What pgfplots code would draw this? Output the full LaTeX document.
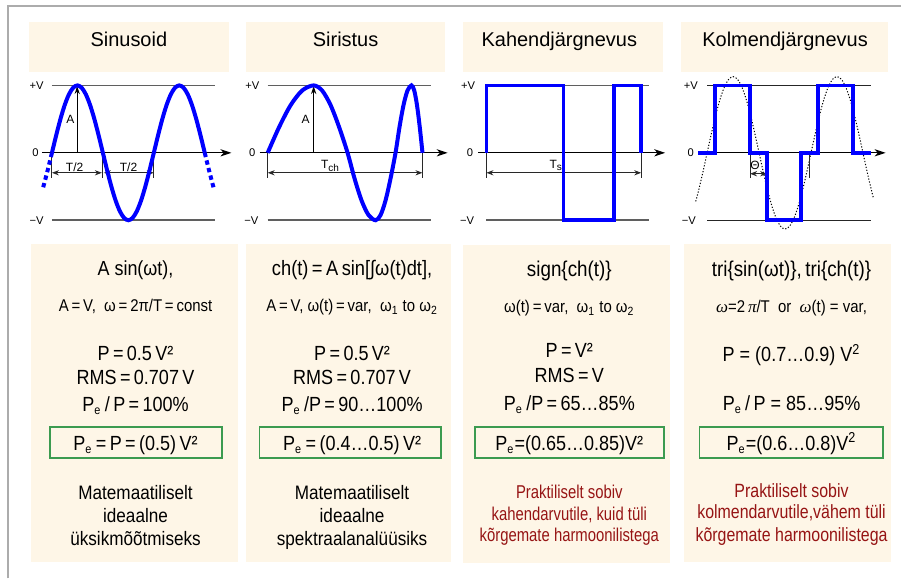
\documentclass[border=0pt]{standalone}
\usepackage{pgfplots}
\usepackage{pgfplotstable}
\pgfplotsset{compat=1.18}
\usetikzlibrary{arrows.meta}
\usepackage{fontspec}
\setmainfont{Liberation Sans}
\newfontfamily\nar[FakeStretch=0.88]{Liberation Sans}
\newfontfamily\narA[FakeStretch=0.80]{Liberation Sans}
\newfontfamily\narB[FakeStretch=0.83]{Liberation Sans}
\newfontfamily\serifr{Liberation Serif}
\definecolor{beige}{RGB}{254,246,231}
\definecolor{boxgreen}{RGB}{60,155,80}
\definecolor{darkred}{RGB}{150,20,20}
\definecolor{vline}{RGB}{95,95,95}
\definecolor{dimc}{RGB}{40,40,40}
\definecolor{wblue}{RGB}{0,0,255}
\newcommand\fs[1]{\fontsize{#1}{#1}\selectfont}
\newcommand\se{\textsubscript{\fs{6.2}e}}
\newcommand\iom{{\serifr\itshape ω}}
\newcommand\ipi{{\serifr\itshape π}}

% sine, one and a half periods (t in periods, y in V)
\pgfplotstableread[row sep=\\]{
t y\\
0 0\\ 0.0417 0.2588\\ 0.0833 0.5\\ 0.125 0.7071\\ 0.1667 0.866\\ 0.2083 0.9659\\
0.25 1\\ 0.2917 0.9659\\ 0.3333 0.866\\ 0.375 0.7071\\ 0.4167 0.5\\ 0.4583 0.2588\\
0.5 0\\ 0.5417 -0.2588\\ 0.5833 -0.5\\ 0.625 -0.7071\\ 0.6667 -0.866\\ 0.7083 -0.9659\\
0.75 -1\\ 0.7917 -0.9659\\ 0.8333 -0.866\\ 0.875 -0.7071\\ 0.9167 -0.5\\ 0.9583 -0.2588\\
1.0 0\\ 1.0417 0.2588\\ 1.0833 0.5\\ 1.125 0.7071\\ 1.1667 0.866\\ 1.2083 0.9659\\
1.25 1\\ 1.2917 0.9659\\ 1.3333 0.866\\ 1.375 0.7071\\ 1.4167 0.5\\ 1.4583 0.2588\\
1.5 0\\
}\sinedata

% chirp (t in units of Tch)
\pgfplotstableread[row sep=\\]{
t y\\
0 0\\ 0.0742 0.3827\\ 0.1484 0.7071\\ 0.2226 0.9239\\ 0.2968 1\\
0.3516 0.9239\\ 0.4065 0.7071\\ 0.4613 0.3827\\ 0.5161 0\\
0.5613 -0.3827\\ 0.6065 -0.7071\\ 0.6516 -0.9239\\ 0.6968 -1\\
0.7290 -0.9239\\ 0.7613 -0.7071\\ 0.7935 -0.3827\\ 0.8258 0\\
0.8516 0.3827\\ 0.8774 0.7071\\ 0.9032 0.9239\\ 0.9290 1\\
0.9468 0.9239\\ 0.9645 0.7071\\ 0.9823 0.3827\\ 1 0\\
}\chirpdata

% binary sequence (t in units of Ts)
\pgfplotstableread[row sep=\\]{
t y\\
0 0\\ 0 1\\ 0.497 1\\ 0.497 -1\\ 0.826 -1\\ 0.826 1\\ 1 1\\ 1 0\\
}\bindata

% ternary sequence (t in periods)
\pgfplotstableread[row sep=\\]{
t y\\
-0.087 0\\ 0.077 0\\ 0.077 1\\ 0.413 1\\ 0.413 0\\ 0.577 0\\ 0.577 -1\\
0.904 -1\\ 0.904 0\\ 1.067 0\\ 1.067 1\\ 1.404 1\\ 1.404 0\\ 1.577 0\\
}\tridata

% dotted reference sine for the ternary sequence
\pgfplotstableread[row sep=\\]{
t y\\
-0.11 -0.720\\ -0.0833 -0.565\\ -0.0417 -0.2924\\ 0 0\\ 0.0417 0.2924\\ 0.0833 0.565\\
0.125 0.799\\ 0.1667 0.9786\\ 0.2083 1.0915\\ 0.25 1.13\\ 0.2917 1.0915\\ 0.3333 0.9786\\
0.375 0.799\\ 0.4167 0.565\\ 0.4583 0.2924\\ 0.5 0\\ 0.5417 -0.2924\\ 0.5833 -0.565\\
0.625 -0.799\\ 0.6667 -0.9786\\ 0.7083 -1.0915\\ 0.75 -1.13\\ 0.7917 -1.0915\\ 0.8333 -0.9786\\
0.875 -0.799\\ 0.9167 -0.565\\ 0.9583 -0.2924\\ 1.0 0\\ 1.0417 0.2924\\ 1.0833 0.565\\
1.125 0.799\\ 1.1667 0.9786\\ 1.2083 1.0915\\ 1.25 1.13\\ 1.2917 1.0915\\ 1.3333 0.9786\\
1.375 0.799\\ 1.4167 0.565\\ 1.4583 0.2924\\ 1.5 0\\ 1.5417 -0.2924\\ 1.5833 -0.565\\
1.6 -0.664\\
}\refsine

\pgfplotsset{panel/.style={hide axis, scale only axis, clip=false, anchor=origin,
  y=33.75pt, ymin=-1.2, ymax=1.2}}
\tikzset{axarrow/.style={line width=0.6pt, -{Stealth[length=5.5pt,width=3.6pt,inset=1.6pt]}},
  dimarrow/.style={dimc, line width=0.5pt, {Stealth[length=3.5pt,width=2.6pt]}-{Stealth[length=3.5pt,width=2.6pt]}},
  tickl/.style={dimc, line width=0.5pt},
  lvl/.style={vline, line width=0.8pt},
  lab/.style={anchor=east, inner sep=0, font=\fs{5.6}},
  txt/.style={anchor=base, inner sep=0}}

\begin{document}
\begin{tikzpicture}[x=0.5pt,y=-0.5pt]
\fill[white] (0,0) rectangle (902,579);
\draw[gray!65, line width=1.1pt] (8,579) -- (8,6) -- (902,6);
% header boxes
\fill[beige] (29,22) rectangle (229,72);
\fill[beige] (246,22) rectangle (446,72);
\fill[beige] (464,22) rectangle (664,72);
\fill[beige] (682,22) rectangle (889,72);
% text boxes
\fill[beige] (31,244) rectangle (238,563);
\fill[beige] (246,244) rectangle (452,563);
\fill[beige] (464,245) rectangle (671,564);
\fill[beige] (685,244) rectangle (892,563);
% green boxes
\draw[boxgreen, line width=0.8pt] (50,427.7) rectangle (222.3,458.3);
\draw[boxgreen, line width=0.8pt] (260,427.7) rectangle (441.7,458.3);
\draw[boxgreen, line width=0.8pt] (475.3,427.7) rectangle (665,458.3);
\draw[boxgreen, line width=0.8pt] (700.3,427.7) rectangle (884.3,458.3);

% headers
\node[txt, font=\fs{10}] at (129,46.7) {Sinusoid};
\node[txt, font=\fs{10}] at (346,46.7) {Siristus};
\node[txt, font=\fs{10}] at (560,46.7) {Kahendjärgnevus};
\node[txt, font=\fs{10}] at (786,46.7) {Kolmendjärgnevus};

% ---------- panel 1: sinusoid
\begin{axis}[panel, at={(26pt,-76.5pt)}, x=51pt, xmin=-0.2, xmax=1.8]
\draw[lvl] (axis cs:0,1) -- (axis cs:1.6,1);
\draw[lvl] (axis cs:0,-1) -- (axis cs:1.6,-1);
\draw[axarrow] (axis cs:-0.098,0) -- (axis cs:1.762,0);
\draw[line width=0.55pt, -{Stealth[length=4pt,width=2.6pt]}] (axis cs:0.248,0) -- (axis cs:0.248,0.99);
\draw[tickl] (axis cs:0,0) -- (axis cs:0,-0.37);
\draw[tickl] (axis cs:0.5,0) -- (axis cs:0.5,-0.37);
\draw[tickl] (axis cs:1.0,0) -- (axis cs:1.0,-0.37);
\draw[dimarrow] (axis cs:0,-0.296) -- (axis cs:0.49,-0.296);
\draw[dimarrow] (axis cs:0.51,-0.296) -- (axis cs:1.0,-0.296);
\addplot[wblue, line width=2pt, smooth] table[x=t, y=y] {\sinedata};
\addplot[wblue, line width=2pt, dash pattern=on 2.2pt off 1.7pt] coordinates {(0,0) (-0.0417,-0.2588) (-0.09,-0.536)};
\addplot[wblue, line width=2pt, dash pattern=on 2.2pt off 1.7pt] coordinates {(1.5,0) (1.5417,-0.2588) (1.59,-0.536)};
\end{axis}

% ---------- panel 2: chirp
\begin{axis}[panel, at={(134pt,-76.5pt)}, x=77.5pt, xmin=-0.07, xmax=1.17]
\draw[lvl] (axis cs:0,1) -- (axis cs:1.052,1);
\draw[lvl] (axis cs:0,-1) -- (axis cs:1.052,-1);
\draw[axarrow] (axis cs:-0.052,0) -- (axis cs:1.163,0);
\draw[line width=0.55pt, -{Stealth[length=4pt,width=2.6pt]}] (axis cs:0.297,0) -- (axis cs:0.297,0.99);
\draw[tickl] (axis cs:0,0) -- (axis cs:0,-0.37);
\draw[tickl] (axis cs:1,0) -- (axis cs:1,-0.37);
\draw[dimarrow] (axis cs:0,-0.296) -- (axis cs:1,-0.296);
\addplot[wblue, line width=2pt, smooth] table[x=t, y=y] {\chirpdata};
\end{axis}

% ---------- panel 3: binary sequence
\begin{axis}[panel, at={(243.5pt,-76.5pt)}, x=77.5pt, xmin=-0.07, xmax=1.17]
\draw[lvl] (axis cs:0,1) -- (axis cs:1.052,1);
\draw[lvl] (axis cs:0,-1) -- (axis cs:1.052,-1);
\draw[axarrow] (axis cs:-0.052,0) -- (axis cs:1.155,0);
\draw[tickl] (axis cs:0,0) -- (axis cs:0,-0.37);
\draw[tickl] (axis cs:1,0) -- (axis cs:1,-0.37);
\draw[dimarrow] (axis cs:0,-0.296) -- (axis cs:1,-0.296);
\addplot[wblue, line width=1.8pt, line join=miter] table[x=t, y=y] {\bindata};
\end{axis}

% ---------- panel 4: ternary sequence
\begin{axis}[panel, at={(354pt,-76.5pt)}, x=52pt, xmin=-0.12, xmax=1.75]
\draw[black!85, line width=0.7pt] (axis cs:0,1) -- (axis cs:1.577,1);
\draw[black!85, line width=0.7pt] (axis cs:0,-1) -- (axis cs:1.577,-1);
\draw[axarrow] (axis cs:-0.087,0) -- (axis cs:1.718,0);
\addplot[black, line width=0.5pt, smooth, dash pattern=on 0.6pt off 0.9pt] table[x=t, y=y] {\refsine};
\draw[tickl] (axis cs:0.413,0) -- (axis cs:0.413,-0.37);
\draw[tickl] (axis cs:0.99,0) -- (axis cs:0.99,-0.37);
\draw[dimarrow] (axis cs:0.413,-0.31) -- (axis cs:0.577,-0.31);
\addplot[wblue, line width=1.8pt, line join=miter] table[x=t, y=y] {\tridata};
\end{axis}

% level labels
\node[lab] at (44,86) {+V};   \node[lab] at (39,153) {0};  \node[lab] at (44,221) {−V};
\node[lab] at (260,86) {+V};  \node[lab] at (256,153) {0}; \node[lab] at (259,221) {−V};
\node[lab] at (476,86) {+V};  \node[lab] at (474,153) {0}; \node[lab] at (475,221) {−V};
\node[lab] at (699,86) {+V};  \node[lab] at (695,153) {0}; \node[lab] at (697,221) {−V};
% panel annotations
\node[inner sep=0, font=\fs{6}] at (70.5,120) {A};
\node[inner sep=0, font=\fs{6}] at (74.7,167) {T/2};
\node[inner sep=0, font=\fs{6}] at (128.7,167) {T/2};
\node[inner sep=0, font=\fs{6}] at (306,120) {A};
\node[inner sep=0, font=\fs{6}] at (331,166) {T\textsubscript{ch}};
\node[inner sep=0, font=\fs{6}] at (557,166) {T\textsubscript{s}};
\node[inner sep=0, font=\fs{6}] at (756,166) {Θ};

% ---------- column 1 text
\node[txt, font=\nar\fs{10.2}] at (135.7,276) {A sin(ωt),};
\node[txt, font=\nar\fs{8.5}] at (135.7,311.7) {A\,=\,V,\ \ ω\,=\,2π/T\,=\,const};
\node[txt, font=\nar\fs{10.25}] at (135.7,360.7) {P\,=\,0.5\,V²};
\node[txt, font=\nar\fs{10.25}] at (135.7,385) {RMS\,=\,0.707\,V};
\node[txt, font=\nar\fs{10.25}] at (135.7,411.7) {P\se\,/\,P\,=\,100\%};
\node[txt, font=\nar\fs{10.25}] at (135.7,450.7) {P\se\,=\,P\,=\,(0.5)\,V²};
\node[txt, font=\nar\fs{9.75}] at (135.7,500) {Matemaatiliselt};
\node[txt, font=\nar\fs{9.75}] at (135.7,522.7) {ideaalne};
\node[txt, font=\nar\fs{9.75}] at (135.7,546) {üksikmõõtmiseks};

% ---------- column 2 text
\node[txt, font=\nar\fs{10.4}] at (352.5,276) {ch(t)\,=\,A\,sin[∫ω(t)dt],};
\node[txt, font=\nar\fs{8.5}] at (352.5,311.7) {A\,=\,V, ω(t)\,=\,var,\ \ ω\textsubscript{1} to ω\textsubscript{2}};
\node[txt, font=\nar\fs{10.25}] at (352.5,360.7) {P\,=\,0.5\,V²};
\node[txt, font=\nar\fs{10.25}] at (352.5,385) {RMS\,=\,0.707\,V};
\node[txt, font=\nar\fs{10.25}] at (352.5,411.7) {P\se\,/P\,=\,90…100\%};
\node[txt, font=\nar\fs{10.25}] at (352.5,450.7) {P\se\,=\,(0.4…0.5)\,V²};
\node[txt, font=\nar\fs{9.75}] at (352.5,500) {Matemaatiliselt};
\node[txt, font=\nar\fs{9.75}] at (352.5,522.7) {ideaalne};
\node[txt, font=\nar\fs{9.75}] at (352.5,546) {spektraalanalüüsiks};

% ---------- column 3 text
\node[txt, font=\nar\fs{10.7}] at (570,276.7) {sign\{ch(t)\}};
\node[txt, font=\nar\fs{8.5}] at (570,313) {ω(t)\,=\,var,\ \ ω\textsubscript{1} to ω\textsubscript{2}};
\node[txt, font=\nar\fs{10.25}] at (570,358.3) {P\,=\,V²};
\node[txt, font=\nar\fs{10.25}] at (570,383.3) {RMS\,=\,V};
\node[txt, font=\nar\fs{10.25}] at (570,410.7) {P\se\,/P\,=\,65…85\%};
\node[txt, font=\nar\fs{10.25}] at (570,450.7) {P\se=(0.65…0.85)V²};
\node[txt, font=\narA\fs{9.3}, text=darkred] at (570,499.3) {Praktiliselt sobiv};
\node[txt, font=\narA\fs{9.3}, text=darkred] at (570,520.7) {kahendarvutile, kuid tüli};
\node[txt, font=\narA\fs{9.3}, text=darkred] at (570,541.7) {kõrgemate harmoonilistega};

% ---------- column 4 text
\node[txt, font=\nar\fs{10.7}] at (792.5,276.7) {tri\{sin(ωt)\},\,tri\{ch(t)\}};
\node[txt, font=\nar\fs{8.5}] at (792.5,313) {\iom=2\,\ipi/T\ \ or\ \ \iom(t) = var,};
\node[txt, font=\nar\fs{10.25}] at (792.5,361.7) {P = (0.7…0.9) V\textsuperscript{2}};
\node[txt, font=\nar\fs{10.25}] at (792.5,410.7) {P\se\,/\,P = 85…95\%};
\node[txt, font=\nar\fs{10.25}] at (792.5,450.7) {P\se=(0.6…0.8)V\textsuperscript{2}};
\node[txt, font=\narB\fs{9.6}, text=darkred] at (792.5,498.3) {Praktiliselt sobiv};
\node[txt, font=\narB\fs{9.6}, text=darkred] at (792.5,519.3) {kolmendarvutile,vähem tüli};
\node[txt, font=\narB\fs{9.6}, text=darkred] at (792.5,541.7) {kõrgemate harmoonilistega};
\end{tikzpicture}
\end{document}
